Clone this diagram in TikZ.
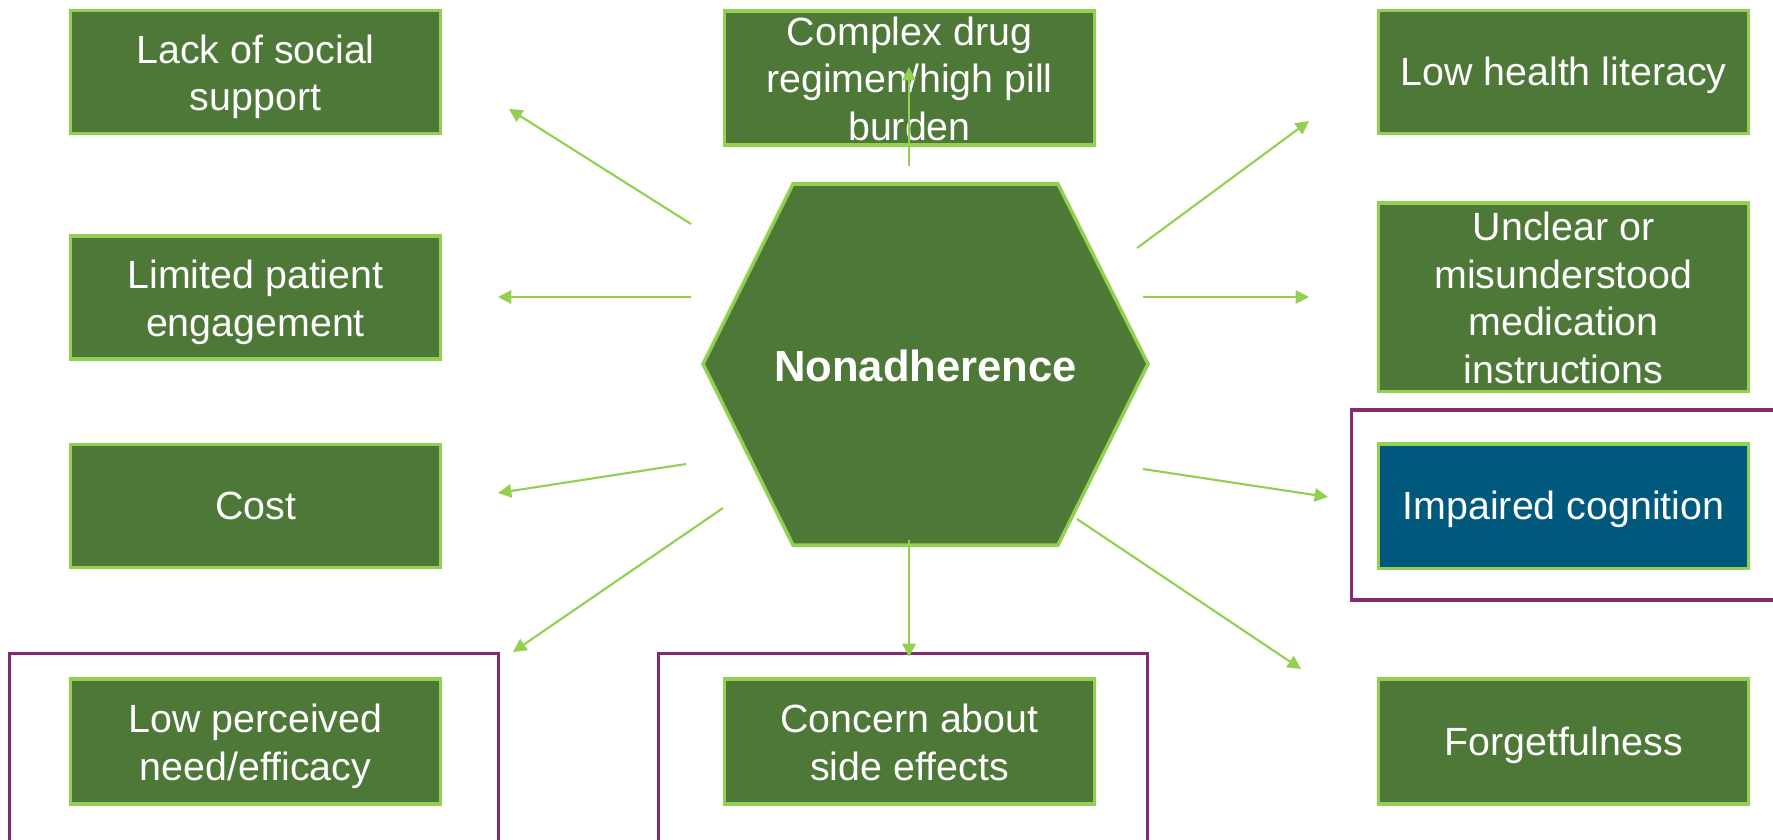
\documentclass[tikz,border=0pt]{standalone}
\usepackage{fontspec}
\setmainfont{Liberation Sans}
\usepackage{xcolor}
\usetikzlibrary{arrows.meta}

\definecolor{box_green}{HTML}{4E7838}
\definecolor{edge_green}{HTML}{92D050}
\definecolor{cog_blue}{HTML}{00587C}
\definecolor{frame_purple}{HTML}{862A6E}

\begin{document}
\begin{tikzpicture}[
    box_style/.style={draw=edge_green, line width=1pt, fill=box_green, text=white, align=center, inner xsep=0pt, inner ysep=-3pt, minimum width=3.7cm, minimum height=1.23cm, font=\fontsize{11.2}{13.6}\selectfont,
        execute at begin node={\rule[-0.212em]{0pt}{1.117em}}, execute at end node={\rule[-0.212em]{0pt}{1.117em}}},
    top_room/.style={execute at begin node={\rule{0pt}{#1}}},
    hub_style/.style={draw=edge_green, line width=1pt, fill=box_green},
    hub_text/.style={text=white, font=\bfseries\fontsize{12.4}{15}\selectfont},
    arrow_style/.style={-{Triangle[length=3.8pt,width=3.8pt]}, line width=0.6pt, edge_green},
    frame_style/.style={draw=frame_purple, line width=1pt}
]
    % Page size
    \useasboundingbox (0,0) rectangle (17.73,8.39);
    \clip (0,0) rectangle (17.73,8.39);

    % Purple highlight frames
    \draw[frame_style] (0.095,1.855) rectangle (4.985,-0.1);
    \draw[frame_style] (6.585,1.855) rectangle (11.475,-0.1);
    \draw[frame_style] (13.515,4.29) rectangle (17.9,2.39);

    % Central hexagon
    \draw[hub_style] (7.03,4.75) -- (7.93,6.55) -- (10.58,6.55) -- (11.48,4.75) -- (10.58,2.94) -- (7.93,2.94) -- cycle;
    \node (hub) at (9.255,4.73) [hub_text] {Nonadherence};

    % Left column
    \node (lack) at (2.555,7.67) [box_style, top_room=24.5pt] {Lack of social\\support};
    \node (limited) at (2.555,5.415) [box_style, top_room=24.5pt] {Limited patient\\engagement};
    \node (cost) at (2.555,3.33) [box_style] {Cost};
    \node (low_need) at (2.555,0.975) [box_style, top_room=24.5pt, minimum height=1.25cm] {Low perceived\\need/efficacy};

    % Middle column
    \node (complex) at (9.095,7.61) [box_style, top_room=38.1pt, minimum height=1.345cm] {Complex drug\\regimen/high pill\\burden};
    \node (concern) at (9.095,0.975) [box_style, top_room=24.5pt, minimum height=1.25cm] {Concern about\\side effects};

    % Right column
    \node (low_literacy) at (15.635,7.67) [box_style] {Low health literacy};
    \node (unclear) at (15.635,5.42) [box_style, top_room=51.7pt, minimum height=1.885cm] {Unclear or\\misunderstood\\medication\\instructions};
    \node (impaired) at (15.635,3.33) [box_style, fill=cog_blue, minimum height=1.245cm] {Impaired cognition};
    \node (forget) at (15.635,0.975) [box_style, minimum height=1.25cm] {Forgetfulness};

    % Arrow ends
    \coordinate (lack_from) at (6.91,6.15);
    \coordinate (lack_to) at (5.09,7.30);
    \coordinate (limited_from) at (6.91,5.42);
    \coordinate (limited_to) at (4.98,5.42);
    \coordinate (cost_from) at (6.86,3.75);
    \coordinate (cost_to) at (4.98,3.46);
    \coordinate (low_need_from) at (7.23,3.31);
    \coordinate (low_need_to) at (5.13,1.87);
    \coordinate (complex_from) at (9.09,6.73);
    \coordinate (complex_to) at (9.09,7.72);
    \coordinate (concern_from) at (9.09,2.99);
    \coordinate (concern_to) at (9.09,1.82);
    \coordinate (low_literacy_from) at (11.37,5.91);
    \coordinate (low_literacy_to) at (13.09,7.18);
    \coordinate (unclear_from) at (11.43,5.42);
    \coordinate (unclear_to) at (13.09,5.42);
    \coordinate (impaired_from) at (11.43,3.70);
    \coordinate (impaired_to) at (13.28,3.42);
    \coordinate (forget_from) at (10.77,3.20);
    \coordinate (forget_to) at (13.01,1.70);

    % Draw arrows
    \foreach \n in {lack, limited, cost, low_need, complex, concern, low_literacy, unclear, impaired, forget}
        \draw[arrow_style] (\n_from) -- (\n_to);

\end{tikzpicture}
\end{document}
